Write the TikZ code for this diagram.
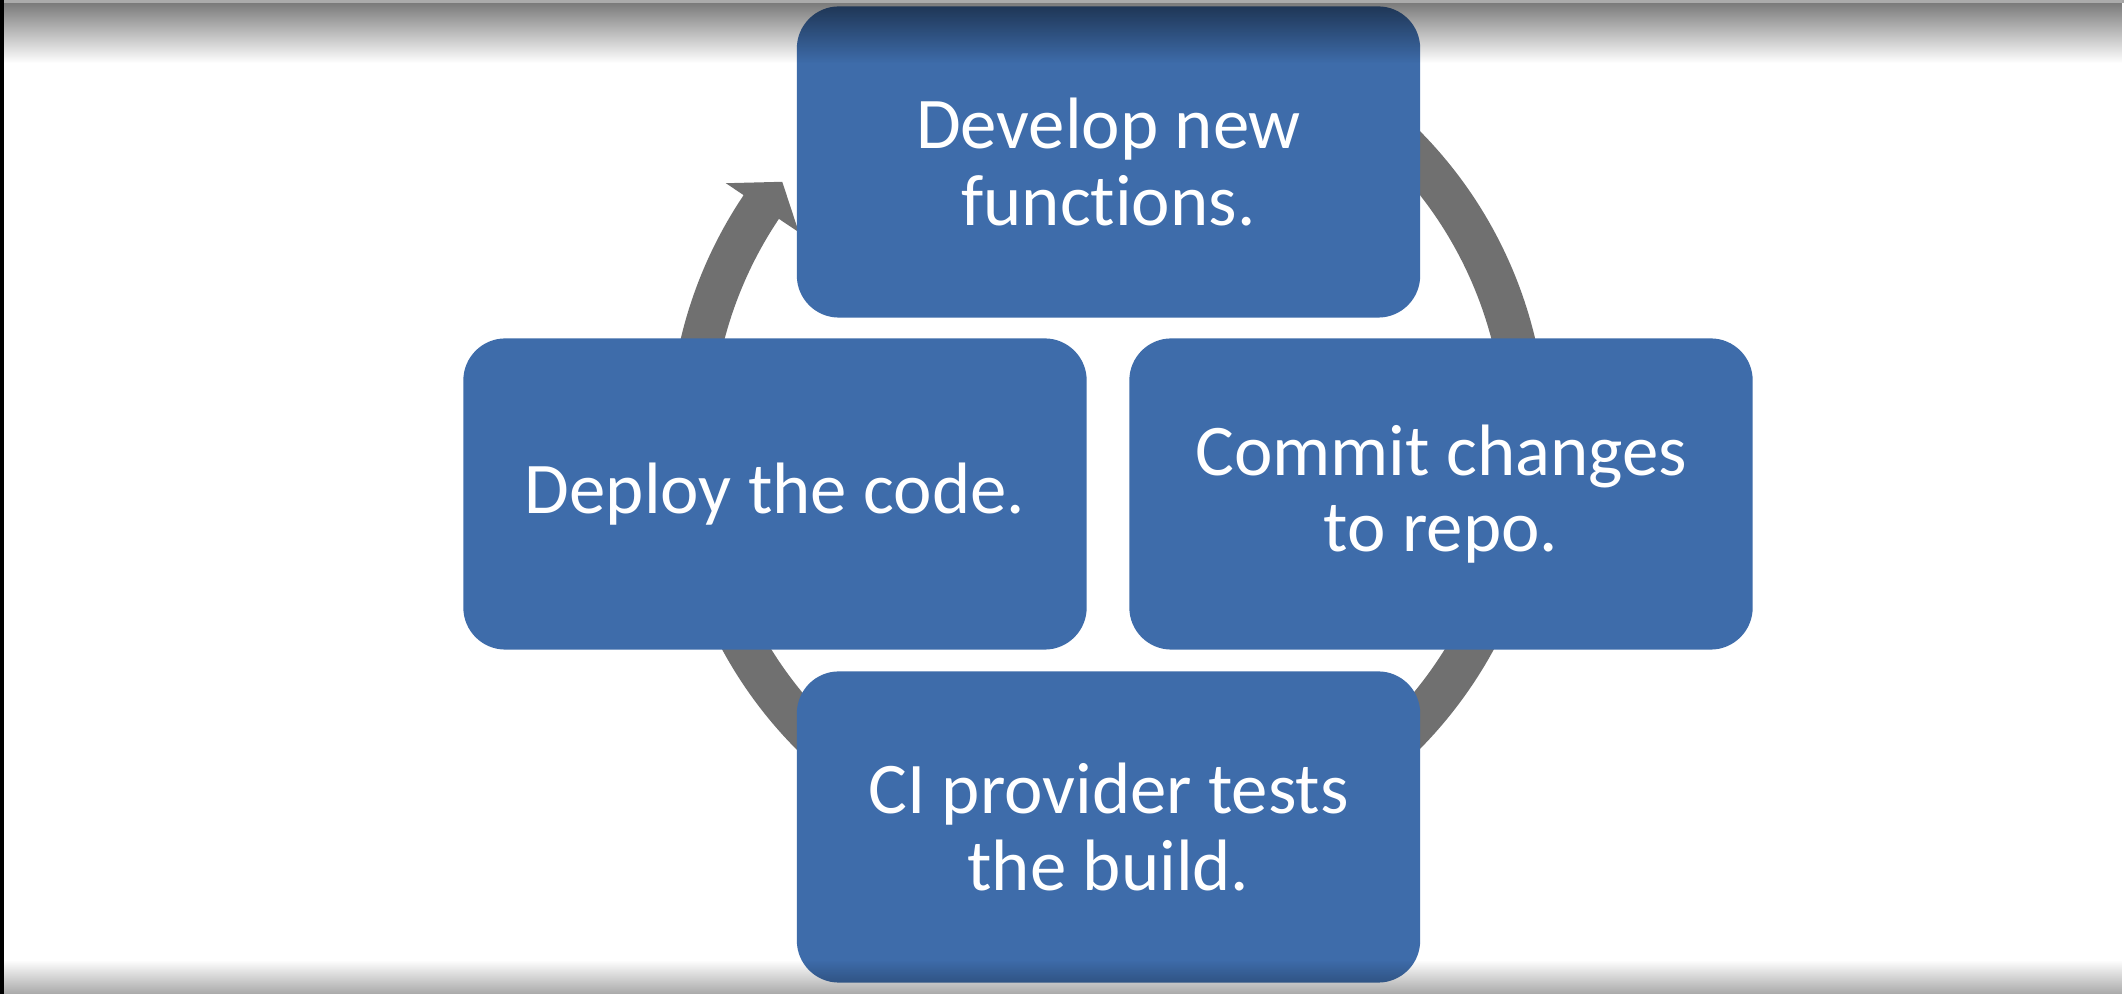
\documentclass[tikz,border=0pt]{standalone}
\usepackage{fontspec}
\setmainfont{Carlito}[Ligatures=NoCommon]
\usetikzlibrary{fadings}
\definecolor{boxblue}{RGB}{62,108,170}
\definecolor{ringgray}{RGB}{112,112,112}
\tikzfading[name=topfade, top color=transparent!48, bottom color=transparent!100]
\tikzfading[name=botfade, top color=transparent!100, bottom color=transparent!66]
\begin{document}
\begin{tikzpicture}[x=0.01cm,y=0.01cm,
  stepbox/.style={draw=none, fill=boxblue, rounded corners=0.42cm,
    minimum width=6.23cm, minimum height=3.11cm, inner sep=0pt,
    align=center, text=white, font=\fontsize{20.7}{21.7}\selectfont},
  ring/.style={fill=ringgray}]
\useasboundingbox (0,0) rectangle (2124,994);
\fill[white] (0,0) rectangle (2124,994);
% cycle arrow
\begin{scope}[shift={(1108,554)}]
\fill[ring] (146.1:439) arc[start angle=146.1, end angle=418, radius=439]
  -- (418:396.5) arc[start angle=418, end angle=146.1, radius=396.5]
  -- (146.1:372.5) -- (141.6:415.7) -- (146.1:460.4) -- cycle;
\end{scope}
% steps
\node[stepbox] (develop) at (1108.5,832) {Develop new\\functions.};
\node[stepbox] (commit) at (1441,500) {Commit changes\\to repo.};
\node[stepbox] (ci) at (1108.5,167) {CI provider tests\\the build.};
\node[stepbox] (deploy) at (775,500) {Deploy the code.};
% frame shading
\fill[black, path fading=topfade] (0,931) rectangle (2124,991);
\fill[black, opacity=0.33] (0,991) rectangle (2124,994);
\fill[black, path fading=botfade] (0,0) rectangle (2124,34);
\fill[black] (0,0) rectangle (4,994);
\end{tikzpicture}
\end{document}
